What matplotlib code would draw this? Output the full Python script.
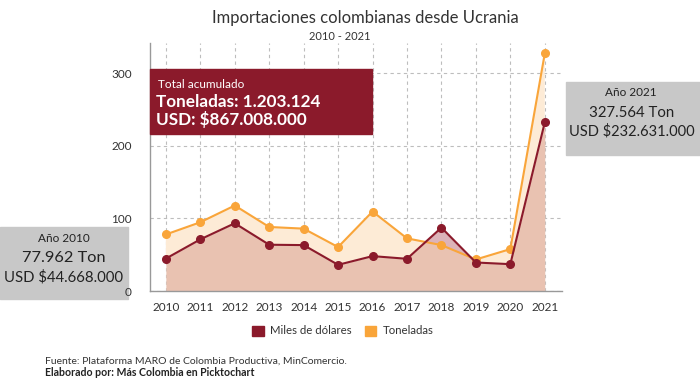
import numpy as np
from matplotlib import pyplot as plt
from matplotlib.patches import Rectangle, Patch

# datos
years = [2010, 2011, 2012, 2013, 2014, 2015, 2016, 2017, 2018, 2019, 2020, 2021]
toneladas = [77.96, 94.8, 117.9, 88.3, 86.0, 60.6, 109.6, 72.6, 63.3, 43.5, 57.8, 327.56]
miles_usd = [44.67, 71.2, 93.4, 63.8, 63.3, 36.1, 48.1, 44.4, 87.4, 39.3, 37.0, 232.63]
yticks = [0, 100, 200, 300]

RED = '#8b1a2b'
ORANGE = '#f9a53a'
W, H = 700, 383

plt.rcParams['font.family'] = ['Lato', 'DejaVu Sans']

fig = plt.figure(figsize=(7, 3.83), dpi=100)
ax = fig.add_axes([150 / W, 1 - 291 / H, 412 / W, 248 / H])

x = np.array(years, dtype=float)
o = np.array(toneladas)
r = np.array(miles_usd)

# areas
ax.fill_between(x, 0, r, color='#e9c2b1', lw=0, zorder=1)
ax.fill_between(x, r, o, where=o >= r, interpolate=True, color='#fdebd6', lw=0, zorder=1)
ax.fill_between(x, o, r, where=r > o, interpolate=True, color='#dcb3b9', lw=0, zorder=1)

ax.plot(x, o, color=ORANGE, lw=1.5, marker='o', ms=5.5, zorder=3)
ax.plot(x, r, color=RED, lw=1.5, marker='o', ms=5.5, zorder=4)

ax.set_xlim(2009.54, 2021.5)
ax.set_ylim(0, 342)
ax.set_xticks(years)
ax.set_yticks(yticks)
ax.tick_params(length=0, labelsize=8.5, colors='#333333', pad=8)
ax.tick_params(axis='y', pad=13)
ax.grid(True, ls=(0, (3, 3)), color='#bdbdbd', lw=0.8, zorder=0)
ax.set_axisbelow(True)
for s in ['top', 'right']:
    ax.spines[s].set_visible(False)
for s in ['left', 'bottom']:
    ax.spines[s].set_color('#999999')
    ax.spines[s].set_linewidth(1)

# titulo
fig.text(365 / W, 1 - 18 / H, 'Importaciones colombianas desde Ucrania', ha='center', va='center',
         fontsize=12, color='#333333')
fig.text(340 / W, 1 - 37 / H, '2010 - 2021', ha='center', va='center', fontsize=8, color='#333333')


def box(x0, y0, x1, y1, color, z):
    rect = Rectangle((x0 / W, 1 - y1 / H), (x1 - x0) / W, (y1 - y0) / H,
                     transform=fig.transFigure, color=color, zorder=z, clip_on=False)
    if z > 0:
        ax.add_artist(rect)
    else:
        fig.patches.append(rect)


def txt(px, py, s, **kw):
    fig.text(px / W, 1 - py / H, s, va='center', zorder=6, **kw)


# caja total acumulado
box(150, 69, 372, 134, RED, 5)
txt(158, 84, 'Total acumulado', fontsize=8.5, color='white')
txt(156, 102, 'Toneladas: 1.203.124', fontsize=12.3, color='white', fontweight='bold')
txt(156, 119, 'USD: $867.008.000', fontsize=12.3, color='white', fontweight='bold')

# caja 2010
box(0, 227, 128, 299, '#c8c8c8', -1)
txt(64, 238, 'Año 2010', fontsize=8.5, color='#222222', ha='center')
txt(64, 258, '77.962 Ton', fontsize=11.8, color='#222222', ha='center')
txt(63, 277, 'USD $44.668.000', fontsize=10.7, color='#222222', ha='center')

# caja 2021
box(566, 82, 700, 155, '#c8c8c8', -1)
txt(631, 93, 'Año 2021', fontsize=8.5, color='#222222', ha='center')
txt(632, 113, '327.564 Ton', fontsize=10.8, color='#222222', ha='center')
txt(632, 131, 'USD $232.631.000', fontsize=10.5, color='#222222', ha='center')

# leyenda
fig.legend([Patch(color=RED), Patch(color=ORANGE)], ['Miles de dólares', 'Toneladas'],
           loc='center', bbox_to_anchor=(343 / W, 1 - 331 / H), ncol=2, frameon=False,
           fontsize=8.2, handlelength=1.0, handleheight=1.0, columnspacing=1.1,
           handletextpad=0.6, labelcolor='#333333')

# fuente
txt(45, 361, 'Fuente: Plataforma MARO de Colombia Productiva, MinComercio.', fontsize=7.5, color='#333333')
txt(45, 372, 'Elaborado por: Más Colombia en Picktochart', fontsize=7.6, color='#222222',
    fontweight='bold')

fig.savefig('out.png', dpi=100, facecolor='white')
